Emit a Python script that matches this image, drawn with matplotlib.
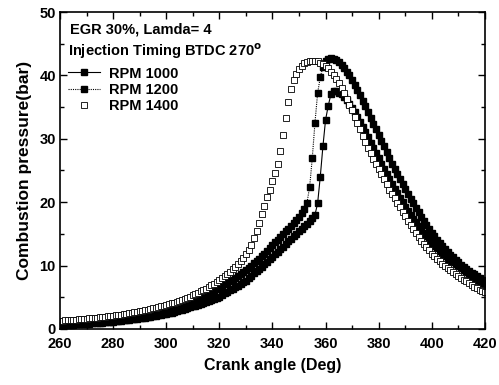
import numpy as np
import matplotlib
matplotlib.use("Agg")
import matplotlib.pyplot as plt

plt.rcParams["font.family"] = ["Liberation Sans", "DejaVu Sans"]
plt.rcParams["font.weight"] = "bold"

# crank angle grid (deg), one reading per degree
crank = np.arange(260, 421)

rpm1000 = [
    0.6, 0.62, 0.64, 0.66, 0.68, 0.7, 0.72, 0.74, 0.77, 0.8,
    0.83, 0.86, 0.89, 0.92, 0.95, 0.98, 1.01, 1.05, 1.09, 1.13,
    1.17, 1.21, 1.25, 1.3, 1.35, 1.4, 1.45, 1.5, 1.56, 1.62,
    1.68, 1.74, 1.8, 1.87, 1.94, 2.01, 2.08, 2.16, 2.24, 2.32,
    2.4, 2.5, 2.6, 2.71, 2.82, 2.93, 3.05, 3.17, 3.29, 3.42,
    3.55, 3.7, 3.85, 4.0, 4.15, 4.3, 4.46, 4.62, 4.78, 4.94,
    5.1, 5.35, 5.6, 5.85, 6.1, 6.35, 6.6, 6.85, 7.1, 7.35,
    7.6, 8.0, 8.4, 8.8, 9.2, 9.5, 9.8, 10.2, 10.6, 11.0,
    11.4, 11.8, 12.2, 12.6, 13.0, 13.4, 13.8, 14.2, 14.6, 15.0,
    15.4, 15.8, 16.2, 16.6, 17.0, 17.5, 18.0, 19.8, 24.0, 28.8,
    33.0, 35.2, 37.0, 37.6, 37.5, 37.3, 37.0, 36.6, 36.1, 35.5,
    34.9, 34.2, 33.5, 32.7, 31.9, 31.1, 30.3, 29.4, 28.6, 27.8,
    26.9, 26.1, 25.3, 24.5, 23.7, 22.9, 22.1, 21.4, 20.7, 20.0,
    19.3, 18.6, 18.0, 17.4, 16.8, 16.2, 15.6, 15.1, 14.6, 14.1,
    13.6, 13.1, 12.7, 12.3, 11.9, 11.5, 11.1, 10.8, 10.5, 10.2,
    9.9, 9.6, 9.3, 9.0, 8.7, 8.4, 8.1, 7.8, 7.5, 7.2,
    6.9,
]

rpm1200 = [
    0.8, 0.83, 0.86, 0.89, 0.92, 0.95, 0.98, 1.01, 1.04, 1.07,
    1.1, 1.14, 1.18, 1.22, 1.26, 1.3, 1.35, 1.4, 1.45, 1.5,
    1.55, 1.61, 1.67, 1.73, 1.79, 1.85, 1.92, 1.99, 2.06, 2.13,
    2.2, 2.28, 2.36, 2.44, 2.52, 2.6, 2.7, 2.8, 2.9, 3.0,
    3.1, 3.22, 3.34, 3.46, 3.58, 3.7, 3.85, 4.0, 4.15, 4.3,
    4.45, 4.63, 4.82, 5.01, 5.2, 5.4, 5.62, 5.84, 6.06, 6.28,
    6.5, 6.76, 7.02, 7.28, 7.54, 7.8, 8.1, 8.4, 8.7, 9.0,
    9.3, 9.65, 10.0, 10.35, 10.7, 11.1, 11.5, 11.9, 12.35, 12.8,
    13.2, 13.65, 14.1, 14.55, 15.0, 15.4, 15.85, 16.3, 16.75, 17.2,
    17.7, 18.3, 19.0, 19.9, 22.4, 27.0, 32.5, 37.2, 39.7, 41.3,
    42.2, 42.6, 42.7, 42.6, 42.4, 42.1, 41.7, 41.2, 40.6, 40.0,
    39.3, 38.5, 37.7, 36.9, 36.0, 35.1, 34.2, 33.3, 32.4, 31.5,
    30.6, 29.7, 28.8, 27.9, 27.0, 26.1, 25.3, 24.5, 23.7, 22.9,
    22.1, 21.3, 20.5, 19.8, 19.1, 18.4, 17.7, 17.0, 16.4, 15.8,
    15.2, 14.6, 14.1, 13.6, 13.1, 12.6, 12.1, 11.7, 11.3, 10.9,
    10.5, 10.1, 9.8, 9.5, 9.2, 8.9, 8.6, 8.3, 8.0, 7.7,
    7.4,
]

rpm1400 = [
    1.3, 1.33, 1.36, 1.39, 1.42, 1.45, 1.48, 1.52, 1.56, 1.6,
    1.64, 1.68, 1.72, 1.76, 1.81, 1.86, 1.91, 1.96, 2.01, 2.06,
    2.1, 2.16, 2.22, 2.28, 2.35, 2.42, 2.49, 2.56, 2.63, 2.71,
    2.8, 2.88, 2.97, 3.06, 3.15, 3.25, 3.35, 3.45, 3.55, 3.66,
    3.78, 3.9, 4.03, 4.16, 4.3, 4.45, 4.6, 4.76, 4.93, 5.1,
    5.3, 5.5, 5.7, 5.92, 6.15, 6.38, 6.62, 6.88, 7.14, 7.42,
    7.7, 8.0, 8.32, 8.66, 9.02, 9.4, 9.8, 10.22, 10.68, 11.18,
    11.8, 12.5, 13.3, 14.3, 15.4, 16.7, 18.1, 19.4, 20.8, 22.0,
    23.3, 24.6, 26.0, 28.0, 30.6, 33.3, 35.8, 37.8, 39.3, 40.3,
    41.0, 41.5, 41.9, 42.1, 42.3, 42.3, 42.3, 42.2, 42.0, 41.8,
    41.5, 41.1, 40.6, 40.1, 39.5, 38.8, 38.0, 37.2, 36.3, 35.4,
    34.5, 33.5, 32.5, 31.5, 30.5, 29.5, 28.6, 27.7, 26.8, 26.0,
    25.2, 24.4, 23.6, 22.8, 22.0, 21.3, 20.6, 19.9, 19.2, 18.5,
    17.8, 17.1, 16.4, 15.7, 15.1, 14.5, 13.9, 13.4, 12.9, 12.4,
    11.9, 11.5, 11.1, 10.7, 10.3, 9.9, 9.6, 9.3, 9.0, 8.7,
    8.4, 8.1, 7.8, 7.5, 7.2, 6.9, 6.6, 6.4, 6.2, 6.0,
    5.8,
]

fig = plt.figure(figsize=(4.99, 3.85), dpi=100)
ax = fig.add_axes([0.1202, 0.1455, 0.8516, 0.8233])

ax.plot(crank, rpm1000, color="black", ls="-", lw=0.8, marker="s", ms=4.6,
        mfc="black", mec="black", label="RPM 1000")
ax.plot(crank, rpm1200, color="black", ls=(0, (1, 1)), lw=0.8, marker="s", ms=4.6,
        mfc="black", mec="black", label="RPM 1200")
ax.plot(crank, rpm1400, color="black", ls="none", marker="s", ms=4.0,
        mfc="white", mec="black", mew=0.6, label="RPM 1400")

ax.set_xlim(260, 420); ax.set_ylim(0, 50)
ax.set_xticks(np.arange(260, 421, 20)); ax.set_xticks(np.arange(260, 421, 10), minor=True)
ax.set_yticks(np.arange(0, 51, 10)); ax.set_yticks(np.arange(0, 51, 5), minor=True)
ax.tick_params(which="both", direction="in", top=True, right=True, width=1.0, labelsize=10.5)
ax.tick_params(axis="x", pad=5.5)
ax.tick_params(axis="y", pad=3)
ax.tick_params(which="major", length=5)
ax.tick_params(which="minor", length=3)
for s in ax.spines.values():
    s.set_linewidth(1.2)
for lab in ax.get_xticklabels() + ax.get_yticklabels():
    lab.set_fontweight("bold")

ax.set_xlabel("Crank angle (Deg)", fontsize=11.5, fontweight="bold", labelpad=5)
ax.set_ylabel("Combustion pressure(bar)", fontsize=12.5, fontweight="bold", labelpad=5)

ax.text(0.024, 0.945, "EGR 30%, Lamda= 4", transform=ax.transAxes, fontsize=10.5,
        fontweight="bold", va="center", ha="left")
ax.text(0.019, 0.875, "Injection Timing BTDC 270$^{\\mathsf{o}}$", transform=ax.transAxes,
        fontsize=10.5, fontweight="bold", va="center", ha="left")
ax.legend(loc="upper left", bbox_to_anchor=(-0.005, 0.86), frameon=False,
          handlelength=2.2, handletextpad=0.6, labelspacing=0.15, borderpad=0.2,
          prop={"weight": "bold", "size": 10.5})

fig.savefig("out.png", dpi=100, facecolor="white")
